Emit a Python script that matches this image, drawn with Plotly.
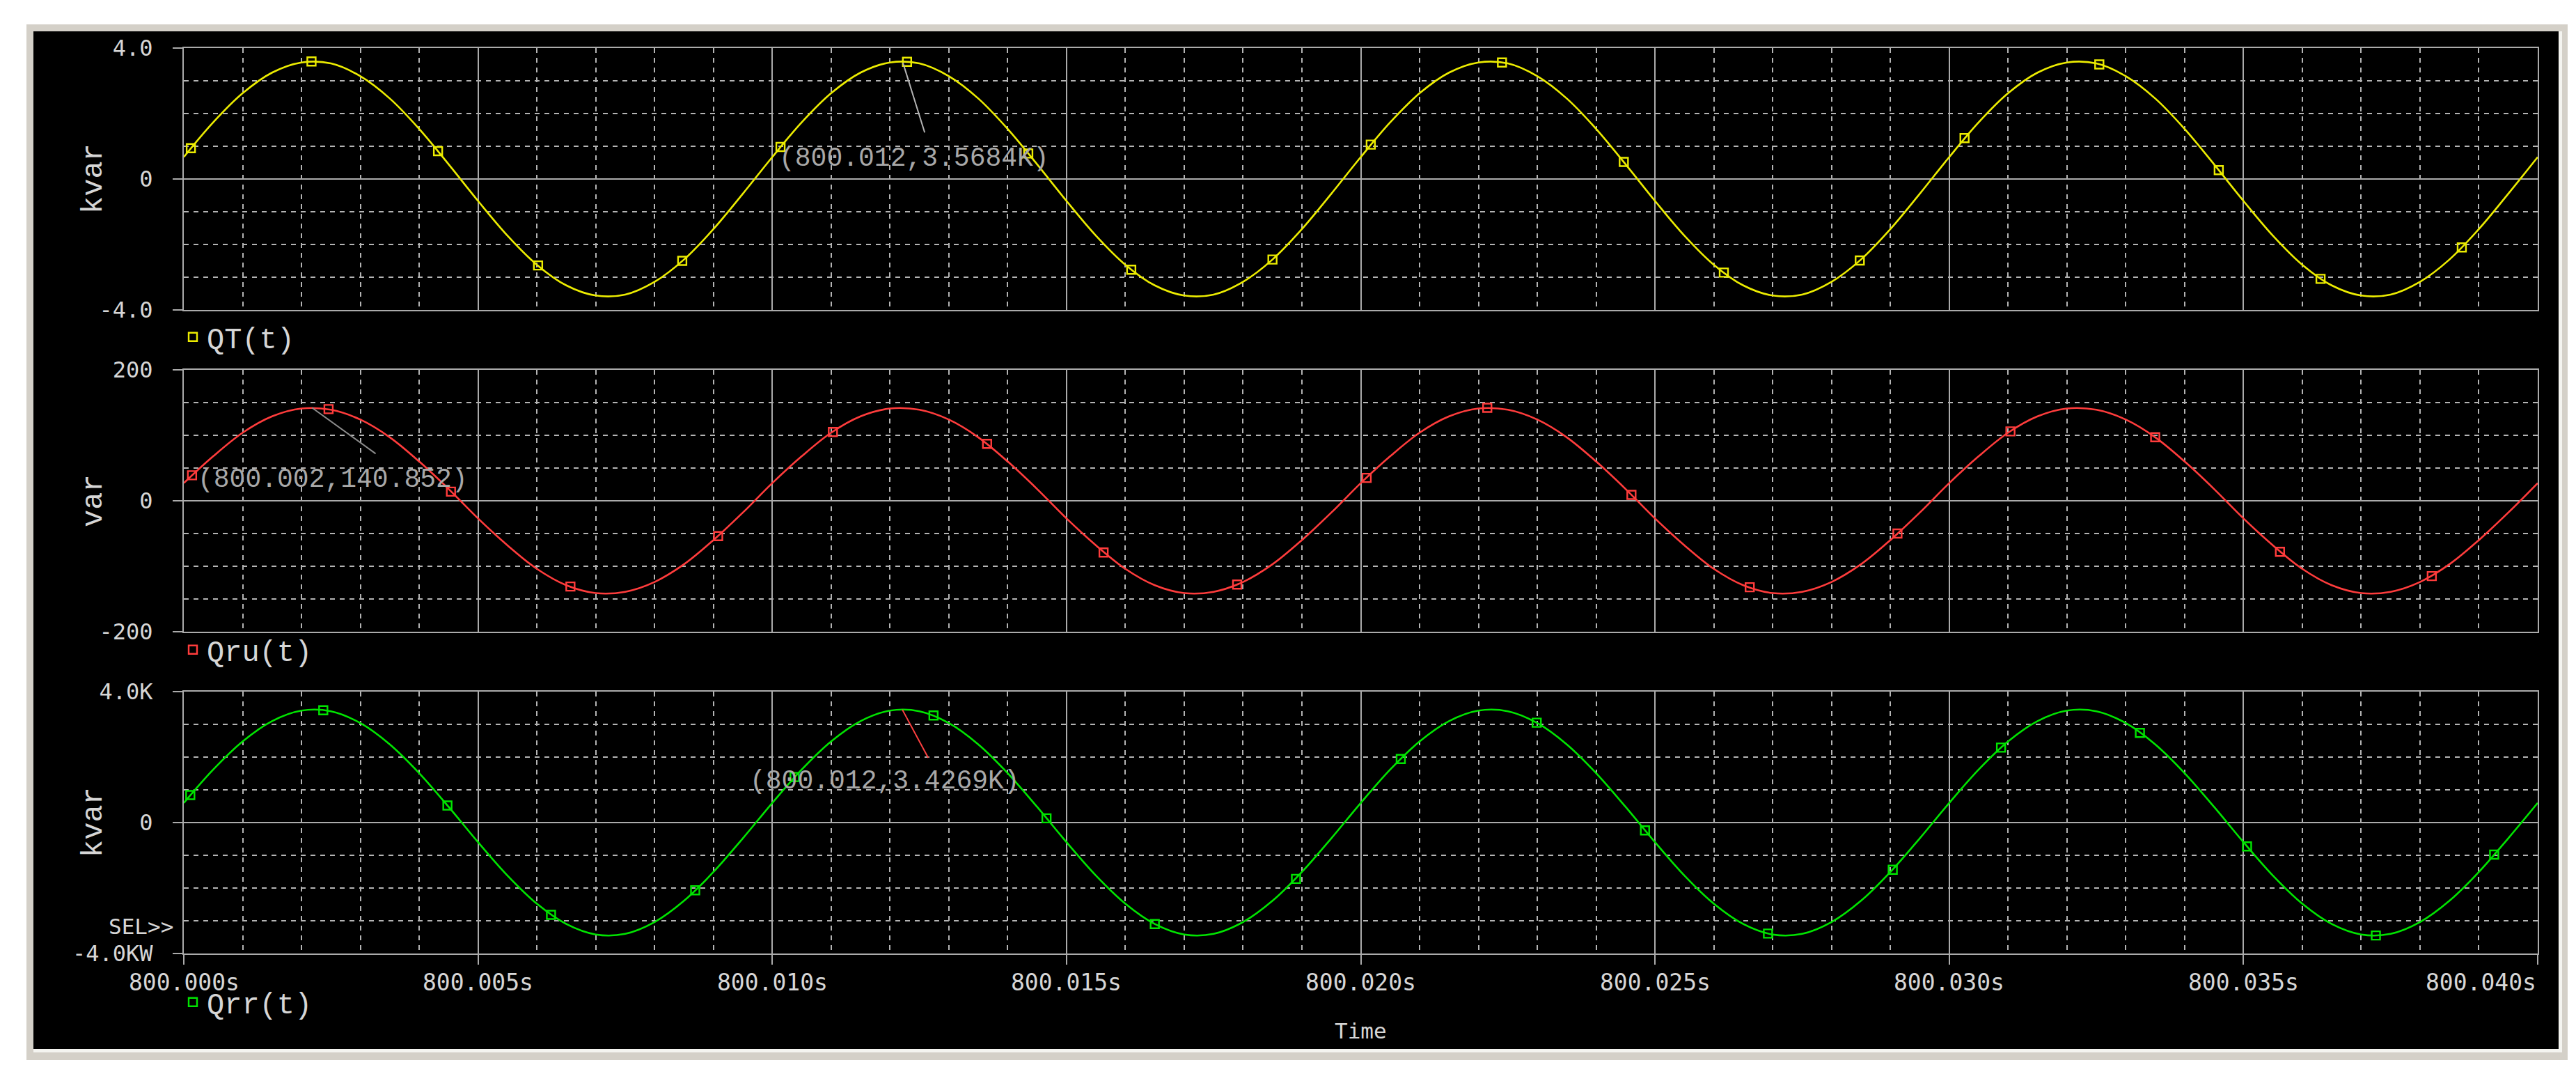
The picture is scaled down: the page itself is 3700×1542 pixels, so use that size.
import plotly.graph_objects as go

# ---------------- data ----------------
# sample times: 800.000 s .. 800.040 s every 0.5 ms
time_s = [round(800.0 + i * 0.0005, 4) for i in range(81)]

qt_kvar = [
    0.67, 1.73, 2.62, 3.25, 3.56, 3.53, 3.14, 2.46, 1.53, 0.45,
    -0.67, -1.73, -2.62, -3.25, -3.56, -3.53, -3.14, -2.46, -1.53, -0.45,
    0.67, 1.73, 2.62, 3.25, 3.56, 3.53, 3.14, 2.46, 1.53, 0.45,
    -0.67, -1.73, -2.62, -3.25, -3.56, -3.53, -3.14, -2.46, -1.53, -0.45,
    0.67, 1.73, 2.62, 3.25, 3.56, 3.53, 3.14, 2.46, 1.53, 0.45,
    -0.67, -1.73, -2.62, -3.25, -3.56, -3.53, -3.14, -2.46, -1.53, -0.45,
    0.67, 1.73, 2.62, 3.25, 3.56, 3.53, 3.14, 2.46, 1.53, 0.45,
    -0.67, -1.73, -2.62, -3.25, -3.56, -3.53, -3.14, -2.46, -1.53, -0.45,
    0.67,
]
qru_var = [
    27, 68, 104, 129, 141, 139, 124, 97, 60, 18,
    -27, -68, -104, -129, -141, -139, -124, -97, -60, -18,
    27, 68, 104, 129, 141, 139, 124, 97, 60, 18,
    -27, -68, -104, -129, -141, -139, -124, -97, -60, -18,
    27, 68, 104, 129, 141, 139, 124, 97, 60, 18,
    -27, -68, -104, -129, -141, -139, -124, -97, -60, -18,
    27, 68, 104, 129, 141, 139, 124, 97, 60, 18,
    -27, -68, -104, -129, -141, -139, -124, -97, -60, -18,
    27,
]
qrr_kvar = [
    0.60, 1.62, 2.48, 3.10, 3.42, 3.40, 3.04, 2.39, 1.51, 0.48,
    -0.60, -1.62, -2.48, -3.10, -3.42, -3.40, -3.04, -2.39, -1.51, -0.48,
    0.60, 1.62, 2.48, 3.10, 3.42, 3.40, 3.04, 2.39, 1.51, 0.48,
    -0.60, -1.62, -2.48, -3.10, -3.42, -3.40, -3.04, -2.39, -1.51, -0.48,
    0.60, 1.62, 2.48, 3.10, 3.42, 3.40, 3.04, 2.39, 1.51, 0.48,
    -0.60, -1.62, -2.48, -3.10, -3.42, -3.40, -3.04, -2.39, -1.51, -0.48,
    0.60, 1.62, 2.48, 3.10, 3.42, 3.40, 3.04, 2.39, 1.51, 0.48,
    -0.60, -1.62, -2.48, -3.10, -3.42, -3.40, -3.04, -2.39, -1.51, -0.48,
    0.60,
]

# trace markers (time offset in ms after 800 s, value)
qt_mark_ms = [0.12, 2.17, 4.32, 6.02, 8.47, 10.14, 12.29, 14.35, 16.1, 18.5,
              20.17, 22.4, 24.47, 26.17, 28.48, 30.26, 32.55, 34.58, 36.31, 38.71]
qt_mark_v = [0.94, 3.59, 0.85, -2.64, -2.50, 0.98, 3.58, 0.78, -2.77, -2.46,
             1.05, 3.56, 0.52, -2.86, -2.49, 1.25, 3.50, 0.27, -3.05, -2.09]
qru_mark_ms = [0.14, 2.46, 4.54, 6.57, 9.08, 11.03, 13.65, 15.63, 17.9, 20.1,
               22.15, 24.6, 26.61, 29.12, 31.04, 33.5, 35.62, 38.2]
qru_mark_v = [39, 140, 14, -131, -54, 105, 87, -79, -128, 35,
              142, 9, -132, -50, 106, 97, -78, -115]
qrr_mark_ms = [0.11, 2.37, 4.48, 6.24, 8.69, 10.38, 12.74, 14.66, 16.5, 18.9,
               20.68, 22.99, 24.83, 26.92, 29.04, 30.88, 33.24, 35.06, 37.25, 39.26]
qrr_mark_v = [0.84, 3.43, 0.52, -2.82, -2.07, 1.39, 3.27, 0.13, -3.10, -1.72,
              1.94, 3.05, -0.24, -3.39, -1.44, 2.29, 2.74, -0.73, -3.45, -0.98]

series_names = ["QT(t)", "Qru(t)", "Qrr(t)"]
y_titles = ["kvar", "var", "kvar"]
y_tickvals = [[-4, 0, 4], [-200, 0, 200], [-4, 0, 4]]
y_ticktext = [["-4.0", "0", "4.0"], ["-200", "0", "200"], ["-4.0KW", "0", "4.0K"]]
y_minor = [1, 50, 1]
x_major_ticks = [800.000, 800.005, 800.010, 800.015, 800.020, 800.025, 800.030, 800.035, 800.040]
x_tick_text = ["800.000s", "800.005s", "800.010s", "800.015s", "800.020s",
               "800.025s", "800.030s", "800.035s", "800.040s"]

# cursor read-outs: (text, text-left time, text-centre value, leader from (t,v) to (t,v), colour)
readouts = [
    ("(800.012,3.5684K)", 800.01009, 0.62, (800.01222, 3.55), (800.01259, 1.42), "#b4b4b4"),
    ("(800.002,140.852)", 800.00021, 32, (800.00218, 142), (800.00326, 72), "#8c8c8c"),
    ("(800.012,3.4269K)", 800.00959, 1.27, (800.01221, 3.45), (800.01265, 1.98), "#ff4040"),
]

# ---------------- layout geometry (pixels) ----------------
W, H = 3700, 1542
PL, PR, PT, PB = 256, 3637, 61, 1361
PW, PH = PR - PL, PB - PT


def px(xp):
    return (xp - PL) / PW


def py(yp):
    return (PB - yp) / PH


colors = ["#ecec00", "#ff3c3c", "#00e400"]
grid_solid = "#ababab"
grid_dash = "#b4b4b4"
text_col = "#d6d6d6"
MONO = "DejaVu Sans Mono"
COUR = "Liberation Mono, Courier New, monospace"

domains = [
    [py(437), 1.0],
    [py(899), py(523)],
    [0.0, py(985)],
]

fig = go.Figure()

line_vals = [qt_kvar, qru_var, qrr_kvar]
mark_ms = [qt_mark_ms, qru_mark_ms, qrr_mark_ms]
mark_v = [qt_mark_v, qru_mark_v, qrr_mark_v]
legend_ids = ["legend", "legend2", "legend3"]

for i in range(3):
    xa = "x" if i == 0 else f"x{i+1}"
    ya = "y" if i == 0 else f"y{i+1}"
    fig.add_trace(go.Scatter(
        x=time_s, y=line_vals[i], mode="lines", line=dict(color=colors[i], width=2.6, shape="spline"),
        xaxis=xa, yaxis=ya, showlegend=False, hoverinfo="skip"))
    fig.add_trace(go.Scatter(
        x=[800.0 + m / 1000.0 for m in mark_ms[i]], y=mark_v[i], mode="markers",
        marker=dict(symbol="square-open", size=12, color=colors[i], line=dict(width=2.4, color=colors[i])),
        xaxis=xa, yaxis=ya, name=series_names[i], showlegend=True, legend=legend_ids[i]))

minor_x = [round(800.0 + k * 0.001, 3) for k in range(41) if k % 5 != 0]

axis_common = dict(showline=True, mirror=True, linecolor=grid_solid, linewidth=2,
                   zeroline=False, gridcolor=grid_solid, gridwidth=2, layer="below traces")

layout = dict(
    width=W, height=H,
    paper_bgcolor="white", plot_bgcolor="black",
    margin=dict(l=PL, r=W - PR, t=PT, b=H - PB, autoexpand=False),
    font=dict(family=MONO, color=text_col, size=32),
)

for i in range(3):
    sfx = "" if i == 0 else str(i + 1)
    layout["xaxis" + sfx] = dict(
        axis_common,
        domain=[0, 1], anchor="y" + sfx, range=[800.0, 800.04],
        tickmode="array", tickvals=x_major_ticks, showticklabels=False,
        ticks="outside" if i == 2 else "", ticklen=14, tickwidth=2, tickcolor=grid_solid,
        showgrid=True,
        minor=dict(tickmode="array", tickvals=minor_x, showgrid=True, gridcolor=grid_dash,
                   gridwidth=2, griddash="7px,7px", ticks=""),
        **({} if i == 0 else dict(matches="x")),
    )
    layout["yaxis" + sfx] = dict(
        axis_common,
        domain=domains[i], anchor="x" + sfx,
        range=[y_tickvals[i][0], y_tickvals[i][2]],
        tickmode="array", tickvals=y_tickvals[i], ticktext=y_ticktext[i],
        ticks="outside", ticklen=14, tickwidth=2, tickcolor=grid_solid,
        ticklabelstandoff=22,
        tickfont=dict(family=MONO, size=32, color=text_col),
        showgrid=True,
        minor=dict(dtick=y_minor[i], tick0=0, showgrid=True, gridcolor=grid_dash,
                   gridwidth=2, griddash="7px,7px", ticks=""),
    )

legend_y = [476, 925, 1431]
for i in range(3):
    layout[legend_ids[i]] = dict(
        x=px(249), y=py(legend_y[i]), xanchor="left", yanchor="middle",
        bgcolor="rgba(0,0,0,0)", borderwidth=0,
        font=dict(family=COUR, size=42, color=text_col), itemwidth=30,
    )

shapes = [
    dict(type="rect", xref="paper", yref="paper", x0=px(30), x1=px(3680), y0=py(1514), y1=py(27),
         fillcolor="#d4d0c8", line=dict(width=0), layer="below"),
    dict(type="rect", xref="paper", yref="paper", x0=px(40), x1=px(3672), y0=py(1503), y1=py(37),
         fillcolor="#f4f4f0", line=dict(width=0), layer="below"),
    dict(type="rect", xref="paper", yref="paper", x0=px(40), x1=px(3667), y0=py(1498), y1=py(37),
         fillcolor="black", line=dict(width=0), layer="below"),
]

annotations = []
# y-axis titles
for i in range(3):
    annotations.append(dict(
        text=y_titles[i], xref="paper", yref="paper", x=px(127), y=sum(domains[i]) / 2,
        xanchor="center", yanchor="middle", textangle=-90, showarrow=False,
        font=dict(family=COUR, size=42, color=text_col)))
# x tick labels
for k, (tv, tt) in enumerate(zip(x_major_ticks, x_tick_text)):
    annotations.append(dict(
        text=tt, xref="x3", yref="paper", x=tv, y=py(1402),
        xanchor="right" if k == len(x_major_ticks) - 1 else "center", yanchor="middle",
        showarrow=False, font=dict(family=MONO, size=33, color=text_col)))
annotations.append(dict(text="Time", xref="x3", yref="paper", x=800.020, y=py(1472),
                        xanchor="center", yanchor="middle", showarrow=False,
                        font=dict(family=MONO, size=31, color=text_col)))
annotations.append(dict(text="SEL>>", xref="paper", yref="paper", x=px(243), y=py(1322),
                        xanchor="right", yanchor="middle", showarrow=False,
                        font=dict(family=MONO, size=31, color=text_col)))
# cursor read-outs
for i, (txt, tx, ty, p0, p1, col) in enumerate(readouts):
    xa = "x" if i == 0 else f"x{i+1}"
    ya = "y" if i == 0 else f"y{i+1}"
    annotations.append(dict(text=txt, xref=xa, yref=ya, x=tx, y=ty, xanchor="left", yanchor="middle",
                            showarrow=False, font=dict(family=COUR, size=38, color="#a8a8a8")))
    shapes.append(dict(type="line", xref=xa, yref=ya, x0=p0[0], y0=p0[1], x1=p1[0], y1=p1[1],
                       line=dict(color=col, width=2), layer="above"))

layout["shapes"] = shapes
layout["annotations"] = annotations
fig.update_layout(**layout)

fig.write_html("out.html")
